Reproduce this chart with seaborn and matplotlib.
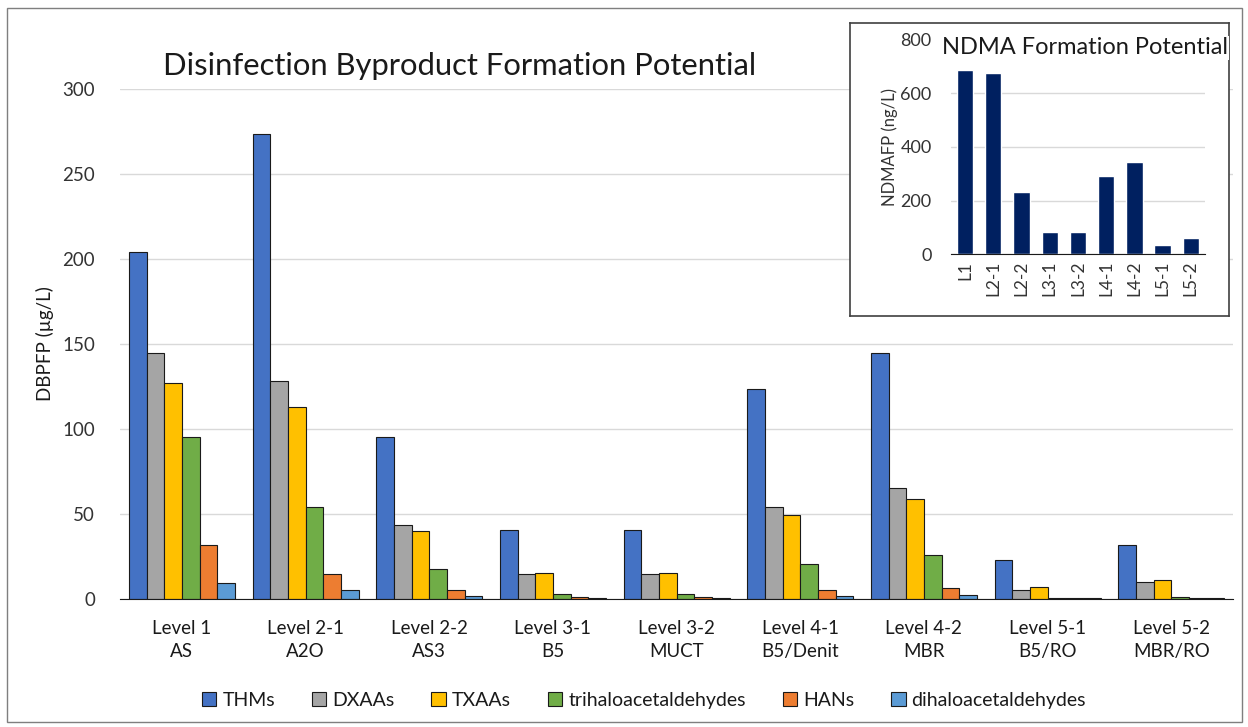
import numpy as np
import pandas as pd
import seaborn as sns
import matplotlib.pyplot as plt
from matplotlib.patches import Rectangle

levels = ['Level 1\nAS', 'Level 2-1\nA2O', 'Level 2-2\nAS3', 'Level 3-1\nB5', 'Level 3-2\nMUCT',
          'Level 4-1\nB5/Denit', 'Level 4-2\nMBR', 'Level 5-1\nB5/RO', 'Level 5-2\nMBR/RO']
compounds = ['THMs', 'DXAAs', 'TXAAs', 'trihaloacetaldehydes', 'HANs', 'dihaloacetaldehydes']
thms = [204, 273.5, 95, 40.5, 40.5, 123.5, 144.5, 23, 32]
dxaas = [144.5, 128.5, 43.5, 14.5, 14.5, 54, 65, 5, 10]
txaas = [127, 113, 40, 15, 15, 49.5, 59, 7.2, 11.4]
trihalo = [95, 54, 17.5, 3.2, 3.2, 20.7, 26, 0.4, 1.2]
hans = [32, 14.6, 5, 1.4, 1.4, 5.1, 6.6, 0.3, 0.4]
dihalo = [9.4, 5.3, 1.8, 0.6, 0.6, 2, 2.6, 0.3, 0.3]
colors = ['#4472C4', '#A5A5A5', '#FFC000', '#70AD47', '#ED7D31', '#5B9BD5']

ndma_labels = ['L1', 'L2-1', 'L2-2', 'L3-1', 'L3-2', 'L4-1', 'L4-2', 'L5-1', 'L5-2']
ndma = [689, 677, 231, 83, 83, 291, 345, 35, 61]

df = pd.DataFrame({'THMs': thms, 'DXAAs': dxaas, 'TXAAs': txaas,
                   'trihaloacetaldehydes': trihalo, 'HANs': hans,
                   'dihaloacetaldehydes': dihalo}, index=levels)
df = df.reset_index().melt(id_vars='index', var_name='compound', value_name='value')
df = df.rename(columns={'index': 'level'})

sns.set_style('white')
plt.rcParams['font.family'] = ['Lato', 'DejaVu Sans']
txt = '#1a1a1a'

fig = plt.figure(figsize=(12.48, 7.27), dpi=100)
fig.patches.append(Rectangle((0.006, 0.007), 0.989, 0.982, transform=fig.transFigure,
                             fill=False, edgecolor='#7f7f7f', lw=1))

ax = fig.add_axes([0.0962, 0.1761, 0.8918, 0.7015])
sns.barplot(data=df, x='level', y='value', hue='compound', hue_order=compounds,
            palette=colors, width=0.857, edgecolor='#1a1a1a', linewidth=0.8,
            saturation=1, ax=ax, legend=True)
ax.set_ylim(0, 300)
ax.set_xlim(-0.5, 8.5)
ax.set_yticks(range(0, 301, 50))
ax.yaxis.grid(True, color='#d9d9d9', lw=1)
ax.set_axisbelow(True)
for s in ['top', 'right', 'left']:
    ax.spines[s].set_visible(False)
ax.spines['bottom'].set_color('#1a1a1a')
ax.tick_params(axis='y', length=0, pad=18, labelsize=13.5, labelcolor='#333333')
ax.tick_params(axis='x', length=0, pad=15, labelsize=13.5, labelcolor=txt)
for lab in ax.get_xticklabels():
    lab.set_linespacing(1.45)
ax.set_xlabel('')
ax.set_ylabel('DBPFP (µg/L)', fontsize=13.5, color=txt, labelpad=6)
ax.text(0.039, 1.045, 'Disinfection Byproduct Formation Potential', transform=ax.transAxes,
        fontsize=22.3, color=txt, va='center', ha='left')

handles, labels = ax.get_legend_handles_labels()
ax.get_legend().remove()
fig.legend(handles, labels, loc='center', bbox_to_anchor=(0.516, 0.037), ncol=6,
           frameon=False, fontsize=14, handlelength=0.75, handleheight=0.75,
           handletextpad=0.3, columnspacing=1.9, labelcolor=txt)

# inset frame
frame = fig.add_axes([0.681, 0.565, 0.304, 0.403])
frame.set_xticks([])
frame.set_yticks([])
frame.set_facecolor('white')
for s in frame.spines.values():
    s.set_color('#404040')
    s.set_linewidth(1.2)

ax2 = fig.add_axes([0.7620, 0.6506, 0.2035, 0.2944])
sns.barplot(x=ndma_labels, y=ndma, color='#002060', width=0.58, ax=ax2, saturation=1)
ax2.set_ylim(0, 800)
ax2.set_xlim(-0.5, 8.5)
ax2.set_yticks(range(0, 801, 200))
ax2.yaxis.grid(True, color='#d9d9d9', lw=1)
ax2.set_axisbelow(True)
for s in ['top', 'right', 'left']:
    ax2.spines[s].set_visible(False)
ax2.spines['bottom'].set_color('#1a1a1a')
ax2.tick_params(axis='y', length=0, pad=14, labelsize=13, labelcolor='#333333')
ax2.tick_params(axis='x', length=0, pad=5, labelsize=12.5, labelcolor='#333333', rotation=90)
ax2.set_ylabel('NDMAFP (ng/L)', fontsize=12, color='#333333', labelpad=2)
fig.text(1085 / 1248, 1 - 48 / 727, 'NDMA Formation Potential', fontsize=17, color=txt,
         ha='center', va='center', bbox=dict(facecolor='white', edgecolor='none', pad=1))

plt.savefig('out.png', dpi=100)
